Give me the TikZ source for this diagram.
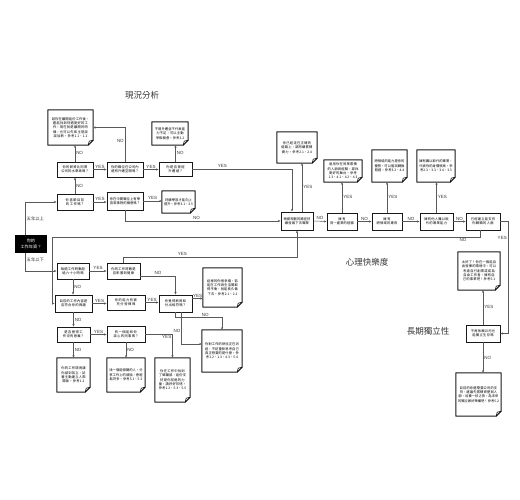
\documentclass[tikz,border=0pt]{standalone}
\usepackage{fontspec}
\newfontfamily\cjk{Noto Sans CJK TC}
\setsansfont{Liberation Sans}
\usetikzlibrary{arrows.meta}
\XeTeXlinebreaklocale "zh"
\XeTeXlinebreakskip=0pt plus 0.5pt
\tikzset{
 base/.style={font=\cjk\fontsize{3.3}{4.3}\selectfont, align=center, inner ysep=0.5pt, inner xsep=2pt},
 box/.style={base, draw=black!90, line width=0.95pt, fill=white},
 notetext/.style={base},
 noteline/.style={draw=black!90, line width=1.05pt, line join=round},
 startbox/.style={fill=black, text=white, font=\cjk\fontsize{4.2}{5.4}\selectfont, align=center, minimum width=32pt, minimum height=18pt, inner sep=0pt},
 arr/.style={-{Stealth[length=2.6pt,width=2.2pt]}, draw=black!65, line width=0.5pt},
 lbl/.style={font=\sffamily\fontsize{4.5}{5}\selectfont, text=black!80, inner sep=1pt},
 clbl/.style={font=\cjk\fontsize{4.3}{5}\selectfont, text=black!80, inner sep=1.5pt},
 title/.style={font=\cjk\fontsize{8.5}{9}\selectfont, text=black!80}
}
\newcommand\bx[7]{%
 \pgfmathsetmacro\bxw{#5-#3}\pgfmathsetmacro\bxh{#6-#4}%
 \pgfmathsetmacro\bxx{(#3+#5)/2}\pgfmathsetmacro\bxy{(#4+#6)/2}%
 \pgfmathsetmacro\bxt{#5-#3-4}%
 \node[#1, minimum width=\bxw pt, minimum height=\bxh pt, text width=\bxt pt] (#2) at (\bxx,\bxy) {#7};}
\newcommand\nt[6]{%
 \bx{notetext}{#1}{#2}{#3}{#4}{#5}{#6}%
 \draw[noteline, fill=white] (#1.north west) -- (#1.north east) -- ([yshift=5pt]#1.south east) -- ([xshift=-5pt]#1.south east) -- (#1.south west) -- cycle;
 \draw[line width=0.6pt] ([yshift=5pt]#1.south east) -- ([xshift=-4pt,yshift=4pt]#1.south east) -- ([xshift=-5pt]#1.south east);
 \node[notetext, text width=\bxt pt] at (#1.center) {#6};}
\begin{document}
\begin{tikzpicture}[x=1pt, y=-1pt]
\useasboundingbox (0,0) rectangle (520,500);
% titles
\node[title] (t1) at (142,95) {現況分析};
\node[title] (t2) at (367,262) {心理快樂度};
\node[title] (t3) at (428,331) {長期獨立性};
% start
\node[startbox] (start) at (31,244) {你的\\工作年資？};
% top-left section
\nt{N1}{48}{110}{93}{145}{若你在離開這份工作後，還能找到待遇更好的工作，現在就是離開的時機，也可以先和主管談談加薪。參考1.1、1.2}
\bx{box}{B}{57}{162}{93}{177}{你的薪資比同業公司的水準高嗎？}
\bx{box}{C}{107}{162}{143}{177}{你的職位在公司內還有升遷空間嗎？}
\bx{box}{D}{159}{162}{192}{176}{你是否曾經升遷過？}
\nt{N2}{152}{122}{188}{145}{不曾升遷並不代表能力不足，可以主動爭取機會。參考2.2}
\bx{box}{A}{57}{194}{93}{210}{你喜歡目前的工作嗎？}
\bx{box}{F}{107}{192}{143}{210}{你在中間職位上有學習新事物的機會嗎？}
\nt{N3}{162}{191}{195}{213}{持續學習才能向上提升。參考3.1、3.5}
% chain
\bx{box}{E}{281}{212}{313}{230}{根據規劃的路徑持續發展下去職業}
\nt{N4}{277}{132}{317}{163}{你已經走在正確的道路上，請持續累積實力。參考2.1、2.4}
\bx{box}{G}{327}{213}{357}{230}{擁有\\同一產業的經驗}
\nt{N5}{324}{160}{362}{182}{善用你在同業累積的人脈與經驗，尋找更好的舞台。參考1.3、4.1、4.2、4.3}
\bx{box}{H}{372}{213}{402}{230}{擁有\\跨領域的專長}
\nt{N6}{372}{150}{407}{182}{跨領域的能力是你的優勢，可以嘗試轉換跑道。參考3.2、4.4}
\bx{box}{I}{420}{213}{453}{230}{擁有他人難以取代的專業能力}
\nt{N7}{417}{150}{455}{182}{擁有難以取代的專業，代表你的身價很高。參考2.3、3.3、3.4、3.5}
\bx{box}{J}{466}{213}{500}{230}{已經建立能支持你轉職的人脈}
\nt{N8}{458}{252}{500}{290}{太好了！你在一個能自由發揮的環境中，可以考慮自行創業或成為自由工作者，擁有自己的事業吧！參考5.1}
\bx{box}{L}{466}{325}{500}{342}{不再依賴公司也能獨立生存嗎}
\nt{N9}{456}{373}{501}{416}{目前的你還需要公司的支持，建議先累積資歷與人脈，培養一技之長，為未來的獨立做好準備吧！參考5.2}
% lower section
\bx{box}{P1}{57}{263}{89}{279}{每週工作時數超過六十小時嗎}
\bx{box}{P2}{107}{263}{140}{279}{你的工作時數是否影響到健康}
\bx{box}{K}{55}{295}{92}{312}{目前的工作內容是否符合你的興趣}
\bx{box}{P3}{107}{295}{145}{310}{你的能力有被充分發揮嗎}
\bx{box}{Q}{159}{295}{192}{312}{你覺得薪資和付出相符嗎？}
\nt{N13}{203}{268}{242}{307}{這樣的你很幸福，若能在工作與生活間取得平衡，就能長久做下去。參考2.1、2.2}
\nt{N14}{202}{330}{242}{372}{你對工作的熱忱正在消退，不妨重新思考自己真正想要的是什麼。參考1.2、1.3、4.3、5.4}
\bx{box}{P4}{57}{327}{90}{342}{是否覺得工作沒有意義？}
\bx{box}{P5}{107}{326}{145}{342}{有一個能和你談心的同事嗎？}
\nt{N10}{57}{358}{90}{392}{你的工作環境讓你感到孤立，試著主動建立人際關係。參考1.2}
\nt{N11}{107}{358}{145}{392}{找一個能傾聽的人，分享工作上的煩惱，會輕鬆許多。參考5.1、5.3}
\nt{N12}{155}{358}{190}{402}{你在工作中找到了歸屬感，這份支持是你前進的力量，請好好珍惜。參考1.2、5.3、5.5}
% connectors top-left
\draw[arr] ([xshift=-6pt]start.north) |- node[clbl,right,pos=0.25]{五年以上} (A.west);
\draw[arr] ([xshift=-6pt]start.south) |- node[clbl,right,pos=0.2]{五年以下} (P1.west);
\draw[arr] (A.north) -- node[lbl,right]{NO} (B.south);
\draw[arr] (B.north) -- node[lbl,right]{NO} (B.north |- N1.south);
\draw[arr] (B.east) -- node[lbl,above]{YES} (C.west);
\draw[arr] (C.north) |- node[lbl,left,pos=0.3]{NO} (N1.east);
\draw[arr] (C.east) -- node[lbl,above]{YES} (C.east -| D.west);
\draw[arr] (D.north) -- node[lbl,right]{NO} (D.north |- N2.south);
\draw[arr] (D.east) -| node[lbl,above,pos=0.15]{YES} ([xshift=-5pt]E.north);
\draw[arr] (A.east) -- node[lbl,above]{YES} (A.east -| F.west);
\draw[arr] (F.east) -- node[lbl,above]{YES} (F.east -| N3.west);
\draw[arr] (F.south) |- node[lbl,above,pos=0.73]{NO} (E.west);
% chain connectors
\draw[arr] ([xshift=5pt]E.north) -- node[lbl,right]{YES} ([xshift=5pt]N4.south);
\draw[arr] (E.east) -- node[lbl,above]{NO} (G.west);
\draw[arr] (G.north) -- node[lbl,right]{YES} (G.north |- N5.south);
\draw[arr] (G.east) -- node[lbl,above]{NO} (H.west);
\draw[arr] (H.north) -- node[lbl,right]{YES} (H.north |- N6.south);
\draw[arr] (H.east) -- node[lbl,above]{NO} (I.west);
\draw[arr] (I.north) -- node[lbl,right]{YES} (I.north |- N7.south);
\draw[arr] (I.east) -- node[lbl,above]{NO} (J.west);
\coordinate (loopL) at (52,237);
\draw[arr] ([xshift=-3pt]J.south) |- node[lbl,below,pos=0.52]{NO} (loopL) |- (K.west);
\coordinate (rR) at (508,333.5);
\draw[arr] (J.east) -| node[lbl,left,pos=0.575]{YES} (rR) -- (L.east);
\draw[arr] (L.north) -- node[lbl,right]{YES} (L.north |- N8.south);
\draw[arr] (L.south) -- node[lbl,right]{NO} (L.south |- N9.north);
% lower connectors
\draw[arr] (P1.east) -- node[lbl,above]{YES} (P2.west);
\draw[arr] (P1.south) -- node[lbl,right]{NO} (P1.south |- K.north);
\coordinate (eY) at (297,257);
\draw[arr] (P2.north) |- node[lbl,above,pos=0.67]{YES} (eY) -- (E.south);
\draw[arr] ([yshift=-5pt]P2.east) -| node[lbl,above,pos=0.25]{NO} (Q.north);
\draw[arr] (K.east) -- node[lbl,above]{YES} (K.east -| P3.west);
\draw[arr] (P3.east) -- node[lbl,above]{YES} (P3.east -| Q.west);
\draw[arr] (K.south) -- node[lbl,right]{NO} (K.south |- P4.north);
\draw[arr] ([yshift=5pt]Q.east) -- node[lbl,above]{YES} ([yshift=5pt]Q.east -| N13.west);
\draw[arr] (Q.south) -- ++(0,5) -| node[lbl,above,pos=0.32]{NO} (N14.north);
\draw[arr] ([xshift=6pt]Q.south) |- node[lbl,left,pos=0.3]{NO} ([yshift=7pt]N14.west);
\draw[arr] (P4.east) -- node[lbl,above]{YES} (P4.east -| P5.west);
\draw[arr] (P4.south) -- node[lbl,right]{NO} (P4.south |- N10.north);
\draw[arr] (P5.south) -- node[lbl,right]{NO} (P5.south |- N11.north);
\draw[arr] (P5.east) -| node[lbl,below left,pos=0.5]{YES} (N12.north);
\end{tikzpicture}
\end{document}
